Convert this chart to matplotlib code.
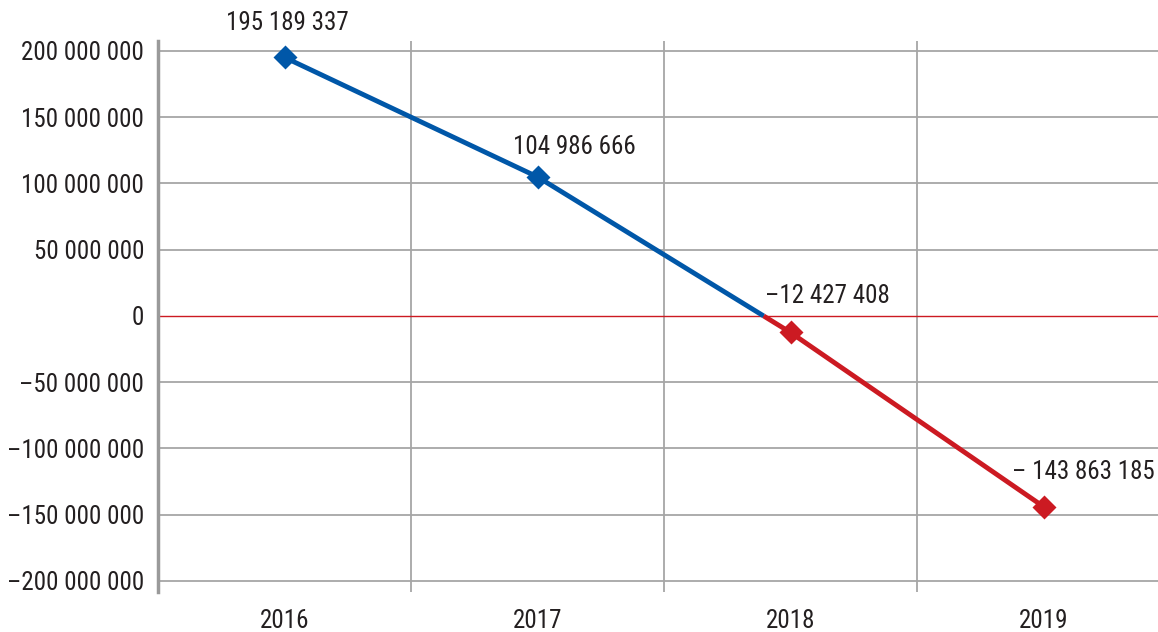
import matplotlib
matplotlib.use("Agg")
import matplotlib.pyplot as plt
from matplotlib import font_manager
import numpy as np

years = ["2016", "2017", "2018", "2019"]
values = [195189337, 104986666, -12427408, -143863185]
value_labels = ["195 189 337", "104 986 666", "\u201312 427 408", "\u2013 143 863 185"]
yticks = [200e6, 150e6, 100e6, 50e6, 0, -50e6, -100e6, -150e6, -200e6]
ytick_labels = ["200 000 000", "150 000 000", "100 000 000", "50 000 000", "0",
                "\u201350 000 000", "\u2013100 000 000", "\u2013150 000 000", "\u2013200 000 000"]

names = {f.name for f in font_manager.fontManager.ttflist}
fam = [n for n in ["Liberation Sans Narrow", "Roboto Condensed", "Open Sans Condensed"] if n in names]
plt.rcParams['font.family'] = fam + ["DejaVu Sans"]

TXT = "#231f20"
BLUE = "#0057a8"
RED = "#cc1a22"

W, H = 1158, 632
fig = plt.figure(figsize=(W/100, H/100), dpi=100)
ax_left, ax_right, ax_top, ax_bot = 158, 1158, 41, 592
ax = fig.add_axes([ax_left/W, 1-ax_bot/H, (ax_right-ax_left)/W, (ax_bot-ax_top)/H])

step = 253.0
ax.set_xlim(-0.5, -0.5 + (ax_right-ax_left)/step)
ppu = 265/200e6
ax.set_ylim(-(ax_bot-316)/ppu, (316-ax_top)/ppu)

x = np.arange(len(years))
v = np.array(values, dtype=float)
i = np.where(np.sign(v[:-1]) != np.sign(v[1:]))[0][0]
xc = x[i] + v[i]/(v[i]-v[i+1])
xb = list(x[:i+1]) + [xc]
yb = list(v[:i+1]) + [0]
xr = [xc] + list(x[i+1:])
yr = [0] + list(v[i+1:])

for yt in yticks:
    if yt != 0:
        ax.axhline(yt, color="#a6a6a6", lw=1.3, zorder=1)
for xv in np.arange(0.5, 4, 1):
    ax.axvline(xv, color="#a6a6a6", lw=1.3, zorder=1)
ax.axhline(0, color=RED, lw=1.0, zorder=2)

ax.plot(xb, yb, color=BLUE, lw=3.5, zorder=3, solid_capstyle="butt")
ax.plot(xr, yr, color=RED, lw=3.5, zorder=3, solid_capstyle="butt")
for xi, vi in zip(x, v):
    ax.plot([xi], [vi], marker="D", ms=12.5, color=BLUE if vi >= 0 else RED, zorder=4, mec="none")

offsets = [(3, 34), (37, 30), (37, 36), (40, 35)]
for xi, vi, lab, (dx, dy) in zip(x, v, value_labels, offsets):
    ax.annotate(lab, (xi, vi), xytext=(dx, dy), textcoords="offset pixels",
                ha="center", va="center", fontsize=18, color=TXT)

for s in ["top", "right", "bottom"]:
    ax.spines[s].set_visible(False)
ax.spines["left"].set_color("#9a9a9a")
ax.spines["left"].set_linewidth(2.5)

ax.set_yticks(yticks)
ax.set_yticklabels(ytick_labels)
ax.set_xticks(x)
ax.set_xticklabels(years)
ax.tick_params(axis="both", length=0, labelsize=18, labelcolor=TXT)
ax.tick_params(axis="y", pad=10)
ax.tick_params(axis="x", pad=12)

fig.savefig("out.png", dpi=100)
